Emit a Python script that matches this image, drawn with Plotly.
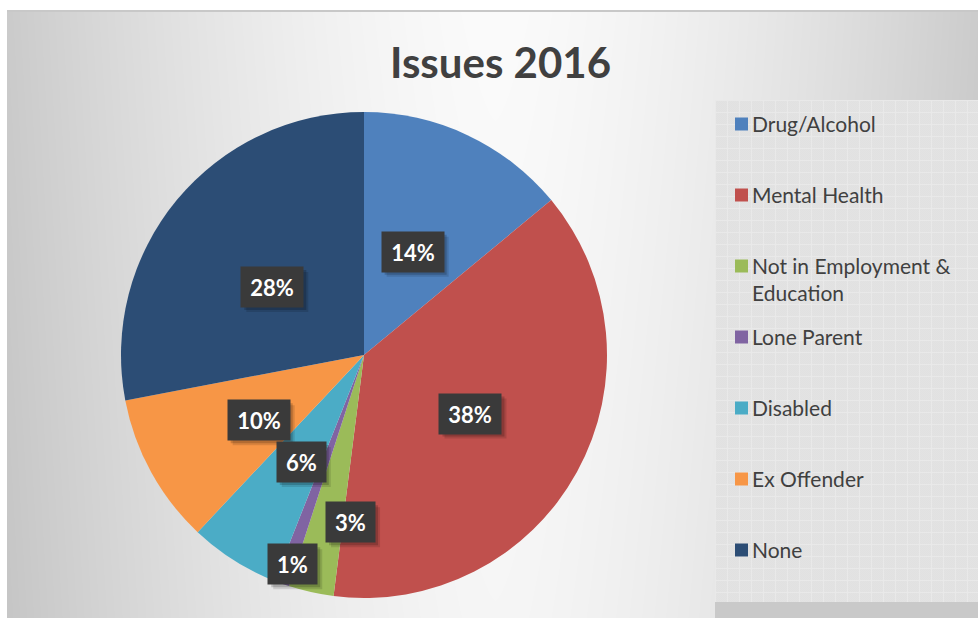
import base64
import struct
import zlib

import numpy as np
import plotly.graph_objects as go

# ---------------- data ----------------
categories = ["Drug/Alcohol", "Mental Health", "Not in Employment & Education",
              "Lone Parent", "Disabled", "Ex Offender", "None"]
legend_labels = ["Drug/Alcohol", "Mental Health", "Not in Employment &<br>Education",
                 "Lone Parent", "Disabled", "Ex Offender", "None"]
values = [14, 38, 3, 1, 6, 10, 28]
colors = ["#4F81BD", "#C0504D", "#9BBB59", "#8064A2", "#4BACC6", "#F79646", "#2C4D75"]
title_text = "Issues 2016"

# label placement style (fraction of radius, angular nudge in degrees)
label_r = [0.47, 0.50, 0.69, 0.91, 0.51, 0.51, 0.47]
label_da = [0, 0, -8, -1, -2, -3, -3]

W, H = 978, 618
CX, CY, R = 364, 355, 243
FONT = "Lato, 'Open Sans', sans-serif"


def px(x):
    return x / W


def py(y):
    return 1 - y / H


# ---------------- background image (gradient + legend panel texture) ----------------
def png_uri(arr):
    h, w = arr.shape
    raw = b"".join(b"\x00" + arr[i].tobytes() for i in range(h))

    def chunk(tag, data):
        c = struct.pack(">I", len(data)) + tag + data
        return c + struct.pack(">I", zlib.crc32(tag + data) & 0xffffffff)

    png = b"\x89PNG\r\n\x1a\n"
    png += chunk(b"IHDR", struct.pack(">IIBBBBB", w, h, 8, 0, 0, 0, 0))
    png += chunk(b"IDAT", zlib.compress(raw, 9))
    png += chunk(b"IEND", b"")
    return "data:image/png;base64," + base64.b64encode(png).decode()


BX0, BY0 = 7, 10
bw, bh = W - BX0, H - BY0
yy, xx = np.mgrid[0:bh, 0:bw]
gx = xx + BX0
gy = yy + BY0
dx = np.clip(np.abs(gx - 495) / 490.0, 0, 1)
bg = 251 - 48 * dx ** 1.5 - 5 * (gy / 600.0)
# top border line
bg[0:2, :] = 200
# legend panel with subtle grid texture
panel = (gx >= 715) & (gy >= 100) & (gy < 602)
bg[panel] = 227
grid = panel & (((gx - 715) % 12 == 0) | ((gy - 100) % 12 == 0))
bg[grid] = 233
checker = panel & ~grid & (((gx + gy) % 2) == 0)
bg[checker] = 225
# strip below the panel
bg[(gx >= 715) & (gy >= 602)] = 201
bg = np.clip(bg, 0, 255).astype(np.uint8)
bg_uri = png_uri(bg)

# ---------------- figure ----------------
fig = go.Figure()
fig.add_trace(go.Pie(
    labels=categories,
    values=values,
    sort=False,
    direction="clockwise",
    rotation=0,
    textinfo="none",
    hoverinfo="label+percent",
    marker=dict(colors=colors, line=dict(width=0)),
    showlegend=False,
    domain=dict(x=[px(CX - R), px(CX + R)], y=[py(CY + R), py(CY - R)]),
))

annotations = []
shapes = []

# percentage labels computed from the data
total = sum(values)
cum = 0
for i, v in enumerate(values):
    mid = (cum + v / 2) / total * 360 + label_da[i]
    cum += v
    th = np.radians(mid)
    lx = CX + label_r[i] * R * np.sin(th)
    ly = CY - label_r[i] * R * np.cos(th)
    pct = f"{round(v / total * 100)}%"
    bw_ = 13 * len(pct) + 15
    bh_ = 32
    hw, hh = bw_ / 2 + 4, bh_ / 2 + 4
    # soft shadow
    for off, a in ((5, 0.12), (3, 0.18)):
        shapes.append(dict(type="rect", xref="paper", yref="paper",
                           x0=px(lx - hw + off), x1=px(lx + hw + off),
                           y0=py(ly + hh + off), y1=py(ly - hh + off),
                           fillcolor=f"rgba(0,0,0,{a})", line=dict(width=0)))
    annotations.append(dict(
        x=px(lx), y=py(ly), xref="paper", yref="paper", showarrow=False,
        xanchor="center", yanchor="middle",
        text=f"<b>{pct}</b>", font=dict(family=FONT, size=22, color="white"),
        bgcolor="#3a3a3a", width=bw_, height=bh_, borderpad=4,
    ))

# legend (manual, to reproduce the wide spacing)
LX, LY0, LDY = 735, 124, 71.0
for i, lab in enumerate(legend_labels):
    yc = LY0 + i * LDY
    shapes.append(dict(type="rect", xref="paper", yref="paper",
                       x0=px(LX), x1=px(LX + 13), y0=py(yc + 6.5), y1=py(yc - 6.5),
                       fillcolor=colors[i], line=dict(width=0)))
    annotations.append(dict(
        x=px(LX + 15), y=py(yc - 15), xref="paper", yref="paper",
        xanchor="left", yanchor="top", align="left", showarrow=False,
        text=lab, font=dict(family=FONT, size=21, color="#404040"),
    ))

# title
annotations.append(dict(
    x=px(500), y=py(62), xref="paper", yref="paper", showarrow=False,
    xanchor="center", yanchor="middle",
    text=f"<b>{title_text}</b>", font=dict(family=FONT, size=42, color="#404040"),
))

fig.update_layout(
    width=W, height=H,
    margin=dict(l=0, r=0, t=0, b=0),
    paper_bgcolor="white",
    plot_bgcolor="white",
    annotations=annotations,
    shapes=shapes,
    images=[dict(source=bg_uri, xref="paper", yref="paper",
                 x=px(BX0), y=py(BY0), sizex=bw / W, sizey=bh / H,
                 xanchor="left", yanchor="top", sizing="stretch", layer="below")],
)

fig.write_html("out.html", config={"displayModeBar": False},
               post_script="document.body.style.margin='0';")
